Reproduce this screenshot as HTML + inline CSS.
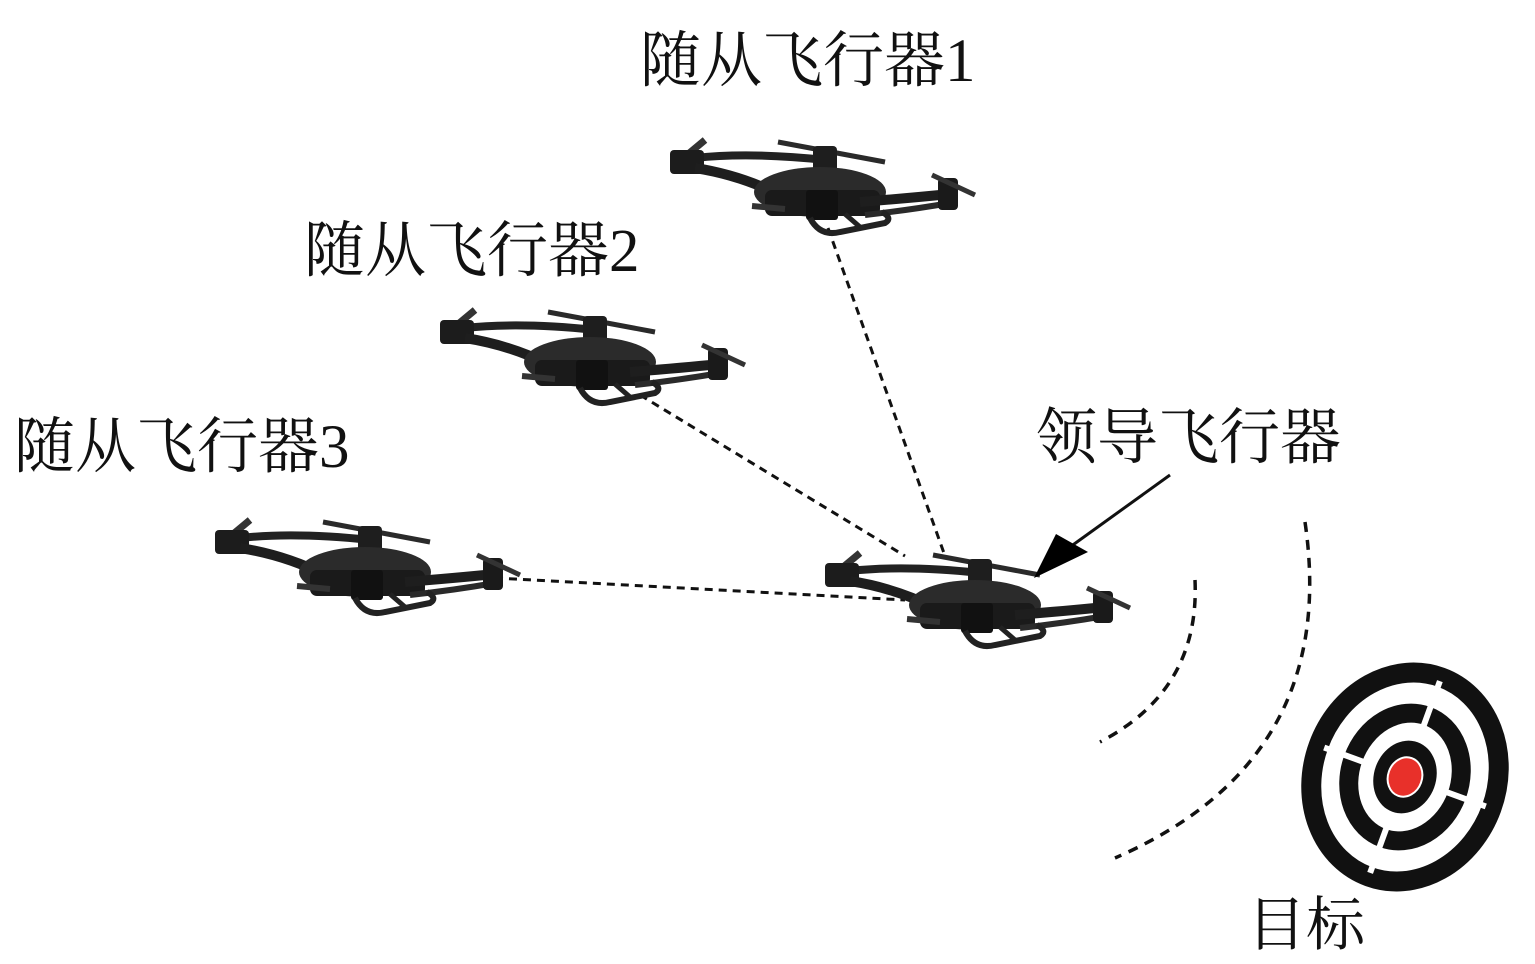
<!DOCTYPE html>
<html><head><meta charset="utf-8">
<style>
html,body{margin:0;padding:0;background:#fff;}
svg{display:block;}
text{font-family:"Liberation Serif","Noto Serif CJK SC","Noto Sans CJK SC",serif;fill:#111;}
</style></head>
<body>
<svg width="1535" height="964" viewBox="0 0 1535 964" xmlns="http://www.w3.org/2000/svg">
<defs>
<g id="drone">
  <path d="M35 28 Q90 22 165 30" stroke="#222" stroke-width="8" fill="none"/>
  <path d="M118 12 L225 32" stroke="#2a2a2a" stroke-width="5" fill="none"/>
  <rect x="153" y="16" width="24" height="26" rx="4" fill="#1e1e1e"/>
  <path d="M15 35 L45 10" stroke="#333" stroke-width="7"/>
  <rect x="10" y="20" width="34" height="24" rx="4" fill="#1c1c1c"/>
  <path d="M35 38 Q80 45 120 65" stroke="#1e1e1e" stroke-width="10" fill="none"/>
  <ellipse cx="160" cy="62" rx="66" ry="25" fill="#2b2b2b"/>
  <rect x="105" y="60" width="115" height="26" rx="7" fill="#1a1a1a"/>
  <rect x="146" y="60" width="32" height="30" rx="3" fill="#111"/>
  <path d="M200 72 Q250 68 290 64" stroke="#1e1e1e" stroke-width="10" fill="none"/>
  <path d="M205 85 Q250 80 290 73" stroke="#2a2a2a" stroke-width="6" fill="none"/>
  <rect x="278" y="48" width="20" height="32" rx="4" fill="#1a1a1a"/>
  <path d="M272 45 L315 65" stroke="#333" stroke-width="5"/>
  <path d="M150 88 Q160 107 180 102 L225 93 Q233 88 222 82" stroke="#222" stroke-width="6" fill="none"/>
  <path d="M185 84 L200 97" stroke="#222" stroke-width="5"/>
  <path d="M92 76 L125 79" stroke="#333" stroke-width="6"/>
</g>
</defs>

<g stroke="#111" stroke-width="3" stroke-dasharray="8,6" fill="none">
  <line x1="828" y1="228" x2="945" y2="556"/>
  <line x1="640" y1="395" x2="905" y2="556"/>
  <line x1="495" y1="578" x2="905" y2="600"/>
</g>

<use href="#drone" x="660" y="130"/>
<use href="#drone" x="430" y="300"/>
<use href="#drone" x="205" y="510"/>
<use href="#drone" x="815" y="543"/>

<line x1="1170" y1="475" x2="1070" y2="547" stroke="#111" stroke-width="3"/>
<polygon points="1034,578 1056,534 1088,552" fill="#000"/>

<g stroke="#111" stroke-width="3.5" stroke-dasharray="10,8" fill="none">
  <path d="M1195 580 Q1200 690 1100 742"/>
  <path d="M1305 522 Q1340 760 1115 858"/>
</g>

<g transform="translate(1405 777) rotate(20)">
  <ellipse rx="92" ry="106" fill="none" stroke="#111" stroke-width="20"/>
  <ellipse rx="55" ry="65" fill="none" stroke="#111" stroke-width="19"/>
  <ellipse rx="31" ry="37" fill="#111"/>
  <ellipse rx="17" ry="20" fill="#e8302a" stroke="#fff" stroke-width="2"/>
  <g stroke="#fff" stroke-width="6">
    <line x1="0" y1="-41" x2="0" y2="-102"/>
    <line x1="0" y1="41" x2="0" y2="102"/>
    <line x1="-35" y1="0" x2="-86" y2="0"/>
    <line x1="35" y1="0" x2="86" y2="0"/>
  </g>
</g>

<text x="640" y="81" font-size="61">随从飞行器1</text>
<text x="304" y="271" font-size="61">随从飞行器2</text>
<text x="14" y="467" font-size="61">随从飞行器3</text>
<text x="1036" y="458" font-size="61">领导飞行器</text>
<text x="1247" y="945" font-size="59">目标</text>
</svg>
</body></html>
